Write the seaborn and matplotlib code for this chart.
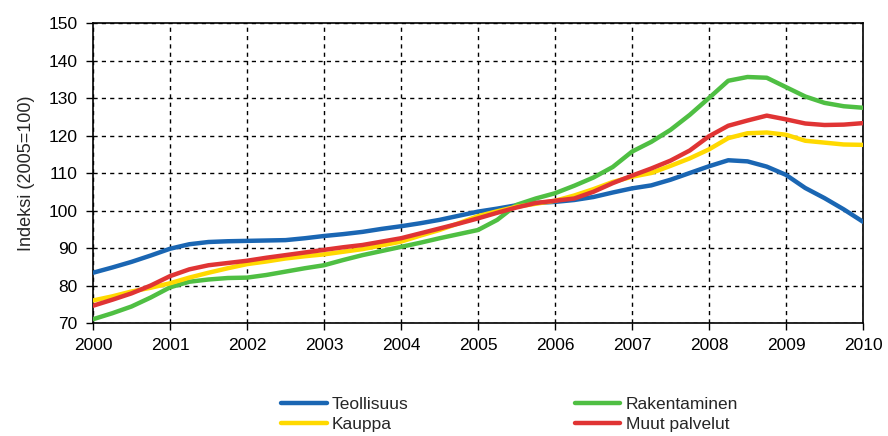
import numpy as np
import pandas as pd
import matplotlib.pyplot as plt
import seaborn as sns

# quarterly points, 2000 - 2010
years = np.arange(2000, 2010.01, 0.25)

teollisuus = [83.4, 84.8, 86.3, 88.0, 89.8, 91.0, 91.6, 91.8, 91.9, 92.0, 92.1,
              92.6, 93.2, 93.7, 94.3, 95.1, 95.8, 96.6, 97.5, 98.6, 99.7,
              100.5, 101.4, 102.0, 102.3, 102.8, 103.6, 104.8, 105.9, 106.7, 108.2,
              110.0, 111.8, 113.4, 113.1, 111.7, 109.5, 106.0, 103.3, 100.3, 97.0]

rakentaminen = [71.0, 72.6, 74.4, 76.8, 79.5, 81.0, 81.6, 82.0, 82.1, 82.8, 83.7,
                84.6, 85.4, 86.8, 88.1, 89.2, 90.3, 91.4, 92.6, 93.7, 94.8,
                97.5, 101.5, 103.2, 104.6, 106.6, 108.8, 111.6, 115.7, 118.3, 121.5,
                125.5, 130.0, 134.6, 135.6, 135.4, 132.9, 130.4, 128.7, 127.8, 127.4]

kauppa = [76.0, 77.1, 78.4, 79.4, 80.6, 82.1, 83.4, 84.6, 85.7, 86.4, 87.2,
          87.8, 88.3, 89.0, 89.7, 90.7, 91.7, 93.3, 94.8, 96.6, 98.5,
          99.8, 101.0, 101.8, 102.6, 104.0, 105.7, 107.6, 109.0, 110.0, 111.9,
          113.9, 116.3, 119.3, 120.6, 120.8, 120.2, 118.6, 118.1, 117.6, 117.5]

muut_palvelut = [74.6, 76.2, 77.9, 80.0, 82.5, 84.3, 85.4, 86.0, 86.6, 87.4, 88.1,
                 88.8, 89.5, 90.2, 90.8, 91.7, 92.6, 93.9, 95.2, 96.5, 97.9,
                 99.4, 100.8, 102.0, 102.6, 103.2, 105.0, 107.3, 109.3, 111.2, 113.3,
                 116.0, 119.8, 122.6, 124.0, 125.3, 124.3, 123.2, 122.8, 122.9, 123.3]

series = {
    'Teollisuus': teollisuus,
    'Rakentaminen': rakentaminen,
    'Kauppa': kauppa,
    'Muut palvelut': muut_palvelut,
}
colors = {
    'Teollisuus': '#1a66b3',
    'Rakentaminen': '#4fbf43',
    'Kauppa': '#ffd900',
    'Muut palvelut': '#e03434',
}

df = pd.concat([pd.DataFrame({'vuosi': years, 'indeksi': v, 'sarja': k})
                for k, v in series.items()], ignore_index=True)

sns.set_style('ticks')
plt.rcParams['font.family'] = ['Liberation Sans', 'DejaVu Sans']

fig = plt.figure(figsize=(8.88, 4.36), dpi=100)
ax = fig.add_axes([93 / 888, 1 - 323 / 436, 770 / 888, 300 / 436])

sns.lineplot(data=df, x='vuosi', y='indeksi', hue='sarja', palette=colors,
             linewidth=3.2, ax=ax, legend=False, zorder=3)

ax.set_xlim(2000, 2010)
ax.set_ylim(70, 150)
ax.set_xticks(range(2000, 2011))
ax.set_yticks(range(70, 151, 10))
ax.grid(True, color='black', linestyle=(0, (3, 3)), linewidth=1.0)
ax.set_axisbelow(True)
for s in ax.spines.values():
    s.set_color('black')
    s.set_linewidth(1.2)
ax.tick_params(direction='out', length=5, width=1, colors='black', labelsize=12.5, pad=6)
ax.set_xlabel('')
ax.set_ylabel('Indeksi (2005=100)', fontsize=13, labelpad=10)

handles = [plt.Line2D([], [], color=colors[k], linewidth=3.2) for k in
           ['Teollisuus', 'Kauppa', 'Rakentaminen', 'Muut palvelut']]
labels = ['Teollisuus', 'Kauppa', 'Rakentaminen', 'Muut palvelut']
fig.legend(handles, labels, ncol=2, loc='center', bbox_to_anchor=(0.574, 0.05),
           frameon=False, fontsize=12.5, handlelength=2.6, handletextpad=0.3,
           columnspacing=9.6, labelspacing=0.3)

fig.savefig('out.png', dpi=100)
